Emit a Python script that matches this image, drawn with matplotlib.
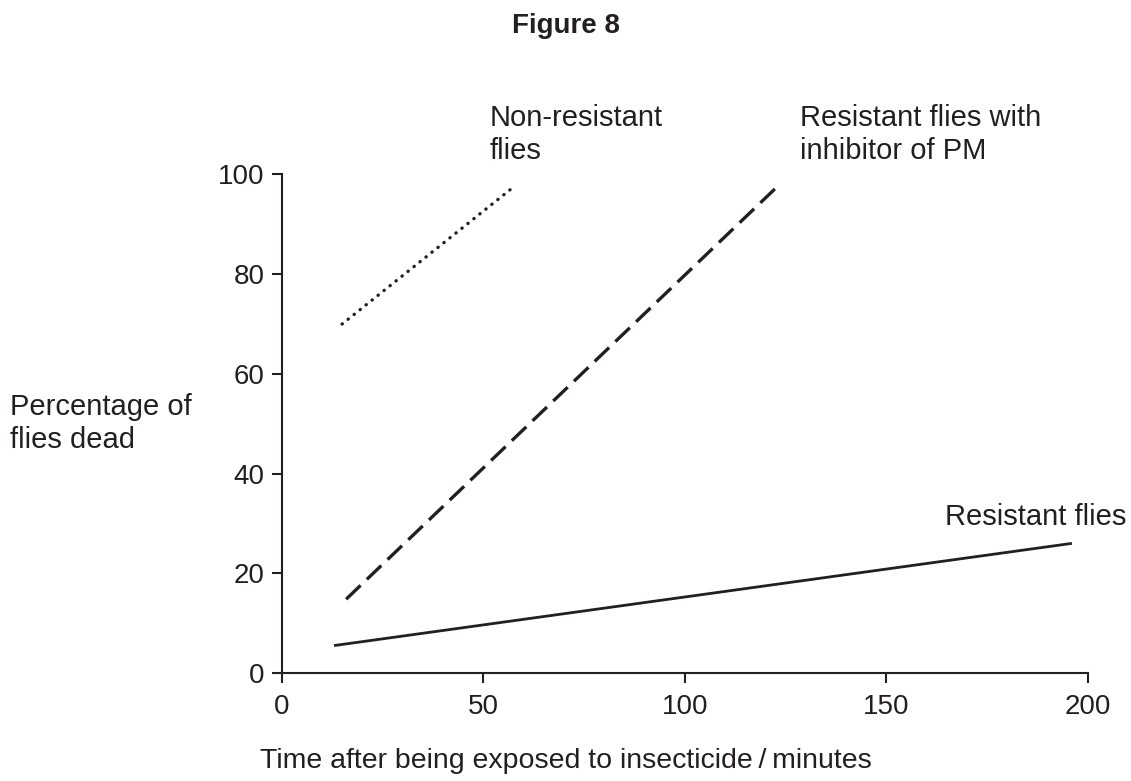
import matplotlib
matplotlib.use("Agg")
import matplotlib.pyplot as plt

plt.rcParams['font.family'] = ['Liberation Sans', 'DejaVu Sans']

INK = "#231f20"

# each line is a straight segment (start, end)
resistant_x = [13, 196]
resistant_y = [5.5, 26]
inhibitor_x = [16, 123.5]
inhibitor_y = [14.8, 98]
nonres_x = [15, 58]
nonres_y = [70, 97.8]

xticks = [0, 50, 100, 150, 200]
yticks = [0, 20, 40, 60, 80, 100]

fig = plt.figure(figsize=(11.31, 7.81), dpi=100)
ax = fig.add_axes([0.249, 0.1383, 0.713, 0.6383])

ax.plot(resistant_x, resistant_y, color=INK, lw=2.0, solid_capstyle="butt")
ax.plot(inhibitor_x, inhibitor_y, color=INK, lw=2.4, dashes=(6, 2.6), dash_capstyle="butt")
ax.plot(nonres_x, nonres_y, color=INK, lw=2.4, dashes=(0.1, 2.2), dash_capstyle="round")

ax.set_xlim(0, 200)
ax.set_ylim(0, 100)
ax.set_xticks(xticks)
ax.set_yticks(yticks)
for s in ["top", "right"]:
    ax.spines[s].set_visible(False)
for s in ["left", "bottom"]:
    ax.spines[s].set_linewidth(1.5)
    ax.spines[s].set_color(INK)
ax.tick_params(length=7.5, width=1.5, color=INK, labelsize=20, labelcolor=INK)
ax.tick_params(axis="x", pad=7.5)
ax.tick_params(axis="y", pad=5)

H = 781.0
def txt(x, ybase_px, s, **kw):
    # place text by its baseline, measured in pixels from the top
    fig.text(x, 1 - ybase_px / H, s, va="baseline", color=INK, **kw)

txt(0.5, 33, "Figure 8", ha="center", fontsize=20, fontweight="bold")
txt(0.433, 126, "Non-resistant", ha="left", fontsize=21)
txt(0.433, 159, "flies", ha="left", fontsize=21)
txt(0.707, 126, "Resistant flies with", ha="left", fontsize=21)
txt(0.707, 159, "inhibitor of PM", ha="left", fontsize=21)
txt(0.996, 525, "Resistant flies", ha="right", fontsize=21)
txt(0.009, 415, "Percentage of", ha="left", fontsize=21)
txt(0.009, 448, "flies dead", ha="left", fontsize=21)
txt(0.5, 768, "Time after being exposed to insecticide\u2009/\u2009minutes", ha="center", fontsize=20.5)

fig.savefig("out.png", dpi=100)
